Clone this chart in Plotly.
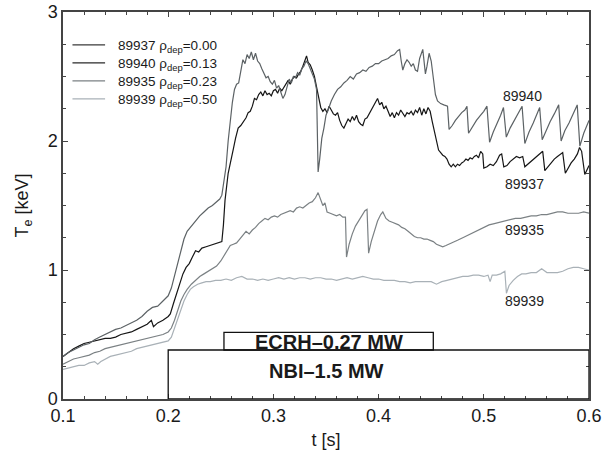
import plotly.graph_objects as go

# ---------------- data ----------------
t_89940 = [0.100,0.105,0.110,0.115,0.120,0.125,0.130,0.135,0.140,0.145,0.150,0.155,0.160,0.165,0.170,0.175,0.180,0.185,0.190,0.195,
           0.200,0.203,0.206,0.209,0.212,0.215,0.218,0.222,0.226,0.230,0.234,0.238,0.242,0.246,0.249,0.251,0.253,0.255,0.257,0.259,
           0.261,0.263,0.265,0.267,0.269,0.271,0.273,0.275,0.277,0.279,0.281,0.283,0.285,0.287,0.289,0.291,0.293,0.295,0.297,0.299,
           0.301,0.303,0.305,0.307,0.309,0.311,0.313,0.315,0.317,0.319,0.321,0.323,0.325,0.327,0.329,0.331,0.333,0.335,0.337,0.339,
           0.341,0.3425,0.344,0.346,0.348,0.350,0.352,0.355,0.358,0.361,0.364,0.367,0.370,0.373,0.376,0.379,0.382,0.385,0.388,0.391,
           0.394,0.397,0.400,0.403,0.406,0.409,0.412,0.415,0.418,0.420,0.4215,0.423,0.425,0.427,0.429,0.431,0.433,0.435,0.437,0.439,
           0.442,0.4445,0.446,0.448,0.450,0.452,0.454,0.456,0.459,0.462,0.4655,0.467,0.470,0.473,0.476,0.479,0.482,0.484,0.4855,0.489,
           0.493,0.497,0.500,0.503,0.5055,0.509,0.513,0.516,0.5187,0.5214,0.525,0.529,0.533,0.5364,0.539,0.543,0.547,0.550,0.5531,0.5555,
           0.559,0.563,0.567,0.5712,0.5735,0.577,0.581,0.585,0.5888,0.5913,0.595,0.600]
T_89940 = [0.33,0.36,0.38,0.40,0.42,0.43,0.46,0.48,0.50,0.52,0.54,0.55,0.57,0.59,0.61,0.64,0.68,0.71,0.72,0.76,
           0.80,0.86,0.96,1.06,1.16,1.24,1.30,1.34,1.38,1.42,1.45,1.48,1.50,1.53,1.55,1.58,1.68,1.80,2.00,2.18,
           2.30,2.40,2.44,2.45,2.55,2.63,2.60,2.67,2.64,2.69,2.63,2.68,2.62,2.60,2.56,2.52,2.49,2.50,2.46,2.44,
           2.47,2.41,2.43,2.38,2.33,2.36,2.42,2.48,2.45,2.50,2.49,2.53,2.51,2.56,2.58,2.62,2.60,2.56,2.53,2.48,
           2.40,1.76,1.86,2.02,2.10,2.20,2.24,2.31,2.36,2.40,2.42,2.45,2.47,2.50,2.48,2.52,2.53,2.55,2.54,2.57,
           2.58,2.60,2.60,2.62,2.63,2.64,2.66,2.67,2.70,2.71,2.62,2.55,2.60,2.63,2.61,2.58,2.60,2.55,2.54,2.64,
           2.71,2.52,2.58,2.68,2.62,2.48,2.36,2.31,2.29,2.28,2.27,2.09,2.12,2.16,2.19,2.22,2.24,2.27,2.06,2.11,
           2.16,2.20,2.23,2.27,1.99,2.07,2.14,2.20,2.26,2.03,2.10,2.16,2.22,2.27,1.98,2.07,2.14,2.20,2.26,2.01,
           2.08,2.15,2.21,2.28,2.00,2.08,2.14,2.21,2.28,1.96,2.06,2.16]

t_89937 = [0.100,0.105,0.110,0.115,0.120,0.125,0.130,0.135,0.140,0.145,0.150,0.155,0.160,0.165,0.170,0.175,0.180,0.184,0.186,0.190,
           0.195,0.200,0.202,0.205,0.208,0.211,0.214,0.217,0.220,0.223,0.226,0.229,0.232,0.236,0.240,0.244,0.248,0.251,0.2525,0.254,
           0.257,0.2595,0.262,0.264,0.2665,0.269,0.2715,0.274,0.276,0.278,0.280,0.282,0.284,0.286,0.288,0.290,0.292,0.294,0.296,0.298,
           0.300,0.302,0.304,0.306,0.308,0.310,0.312,0.314,0.316,0.318,0.320,0.322,0.324,0.326,0.328,0.330,0.3315,0.333,0.335,0.337,
           0.339,0.341,0.343,0.345,0.347,0.349,0.351,0.353,0.355,0.357,0.359,0.361,0.363,0.365,0.367,0.369,0.371,0.373,0.375,0.377,
           0.379,0.381,0.383,0.385,0.387,0.389,0.391,0.393,0.395,0.397,0.399,0.401,0.403,0.405,0.407,0.409,0.411,0.413,0.415,0.417,
           0.419,0.421,0.423,0.425,0.427,0.429,0.431,0.433,0.435,0.437,0.439,0.441,0.443,0.445,0.447,0.449,0.451,0.453,0.455,0.457,
           0.459,0.461,0.463,0.465,0.467,0.469,0.471,0.473,0.475,0.477,0.479,0.481,0.483,0.485,0.487,0.489,0.491,0.493,0.495,0.497,
           0.499,0.500,0.503,0.506,0.509,0.512,0.515,0.517,0.519,0.522,0.525,0.528,0.531,0.534,0.537,0.539,0.542,0.545,0.548,0.551,
           0.554,0.556,0.558,0.561,0.564,0.567,0.570,0.573,0.575,0.5775,0.580,0.583,0.586,0.589,0.591,0.593,0.596,0.598,0.600]
T_89937 = [0.33,0.36,0.39,0.41,0.43,0.44,0.45,0.46,0.47,0.47,0.48,0.50,0.51,0.52,0.54,0.56,0.58,0.61,0.56,0.59,
           0.61,0.64,0.66,0.74,0.82,0.90,0.97,1.02,1.05,1.10,1.15,1.14,1.17,1.18,1.19,1.20,1.21,1.22,1.35,1.54,
           1.75,1.86,1.94,2.02,2.10,2.12,2.15,2.18,2.22,2.23,2.27,2.33,2.32,2.36,2.38,2.35,2.39,2.36,2.37,2.35,
           2.39,2.40,2.37,2.41,2.39,2.42,2.45,2.47,2.44,2.48,2.50,2.49,2.52,2.54,2.58,2.62,2.66,2.61,2.59,2.55,
           2.50,2.42,2.34,2.26,2.23,2.25,2.22,2.27,2.24,2.21,2.20,2.22,2.16,2.12,2.10,2.14,2.17,2.15,2.19,2.16,
           2.20,2.15,2.13,2.12,2.17,2.18,2.21,2.24,2.28,2.30,2.33,2.28,2.30,2.25,2.27,2.23,2.19,2.22,2.18,2.22,
           2.20,2.24,2.21,2.19,2.22,2.21,2.23,2.20,2.24,2.22,2.26,2.20,2.25,2.21,2.26,2.23,2.15,2.08,1.99,1.93,
           1.91,1.89,1.88,1.86,1.82,1.80,1.82,1.80,1.82,1.81,1.83,1.84,1.86,1.85,1.87,1.86,1.88,1.89,1.87,1.92,
           1.90,1.79,1.80,1.82,1.81,1.84,1.89,1.90,1.80,1.81,1.84,1.86,1.88,1.87,1.88,1.80,1.82,1.84,1.86,1.88,
           1.90,1.92,1.77,1.80,1.83,1.86,1.88,1.90,1.91,1.75,1.79,1.83,1.86,1.90,1.95,1.92,1.74,1.78,1.81]

t_89935 = [0.100,0.105,0.110,0.115,0.120,0.125,0.130,0.135,0.140,0.145,0.150,0.155,0.160,0.165,0.170,0.175,0.180,0.185,0.190,0.195,
           0.200,0.203,0.206,0.209,0.212,0.215,0.218,0.222,0.226,0.230,0.234,0.238,0.242,0.246,0.250,0.253,0.256,0.259,0.262,0.265,
           0.268,0.271,0.274,0.277,0.280,0.283,0.286,0.289,0.292,0.295,0.298,0.301,0.304,0.307,0.310,0.313,0.316,0.319,0.322,0.325,
           0.328,0.331,0.334,0.337,0.340,0.3425,0.345,0.347,0.349,0.351,0.354,0.357,0.360,0.363,0.366,0.3685,0.3695,0.372,0.375,0.378,
           0.381,0.384,0.387,0.389,0.3905,0.393,0.396,0.399,0.402,0.404,0.407,0.410,0.413,0.416,0.419,0.422,0.425,0.428,0.431,0.434,
           0.437,0.440,0.443,0.446,0.449,0.452,0.455,0.458,0.461,0.464,0.467,0.470,0.475,0.480,0.485,0.490,0.495,0.500,0.505,0.510,
           0.515,0.520,0.525,0.530,0.535,0.540,0.545,0.550,0.555,0.560,0.565,0.570,0.575,0.580,0.585,0.590,0.595,0.600]
T_89935 = [0.27,0.29,0.31,0.32,0.33,0.34,0.36,0.37,0.39,0.40,0.41,0.42,0.43,0.44,0.45,0.46,0.47,0.48,0.49,0.50,
           0.52,0.55,0.61,0.69,0.76,0.81,0.85,0.89,0.92,0.95,0.97,0.99,1.01,1.03,1.07,1.11,1.15,1.19,1.20,1.21,
           1.24,1.27,1.30,1.28,1.31,1.33,1.36,1.38,1.40,1.39,1.41,1.42,1.41,1.43,1.44,1.45,1.46,1.45,1.48,1.49,
           1.48,1.50,1.52,1.53,1.56,1.60,1.54,1.50,1.52,1.45,1.44,1.43,1.42,1.43,1.41,1.41,1.10,1.20,1.28,1.34,
           1.38,1.42,1.46,1.47,1.13,1.22,1.30,1.38,1.43,1.45,1.40,1.38,1.37,1.36,1.35,1.33,1.32,1.30,1.28,1.26,
           1.25,1.25,1.24,1.24,1.23,1.22,1.20,1.19,1.18,1.19,1.20,1.21,1.23,1.25,1.27,1.29,1.31,1.33,1.35,1.36,
           1.37,1.38,1.39,1.40,1.40,1.41,1.42,1.42,1.43,1.43,1.44,1.45,1.45,1.44,1.44,1.44,1.45,1.44]

t_89939 = [0.100,0.105,0.110,0.115,0.120,0.125,0.130,0.133,0.136,0.140,0.145,0.150,0.155,0.160,0.165,0.170,0.175,0.180,0.185,0.190,
           0.195,0.200,0.203,0.206,0.209,0.212,0.215,0.218,0.221,0.224,0.228,0.232,0.236,0.240,0.245,0.250,0.255,0.260,0.265,0.270,
           0.275,0.280,0.285,0.290,0.295,0.300,0.305,0.310,0.315,0.320,0.325,0.330,0.335,0.340,0.345,0.350,0.355,0.360,0.365,0.370,
           0.375,0.380,0.385,0.390,0.395,0.400,0.405,0.410,0.415,0.420,0.425,0.430,0.435,0.440,0.445,0.450,0.455,0.460,0.465,0.470,
           0.475,0.480,0.485,0.490,0.495,0.500,0.504,0.506,0.508,0.512,0.516,0.520,0.5215,0.524,0.528,0.532,0.536,0.540,0.545,0.550,
           0.555,0.560,0.565,0.570,0.575,0.580,0.585,0.590,0.595,0.600]
T_89939 = [0.23,0.24,0.25,0.26,0.26,0.28,0.29,0.27,0.29,0.31,0.33,0.34,0.35,0.36,0.37,0.39,0.40,0.41,0.42,0.43,
           0.44,0.45,0.48,0.55,0.63,0.70,0.76,0.81,0.85,0.87,0.89,0.90,0.91,0.91,0.92,0.92,0.93,0.92,0.94,0.95,
           0.93,0.93,0.92,0.93,0.92,0.93,0.94,0.93,0.94,0.93,0.94,0.94,0.93,0.94,0.94,0.93,0.93,0.92,0.93,0.94,
           0.93,0.94,0.95,0.94,0.93,0.93,0.92,0.92,0.92,0.91,0.91,0.90,0.91,0.91,0.91,0.91,0.89,0.91,0.92,0.93,
           0.94,0.95,0.95,0.96,0.96,0.95,0.96,0.91,0.96,0.96,0.97,0.99,0.82,0.88,0.92,0.95,0.97,0.97,0.98,0.98,
           1.01,0.98,0.98,0.98,0.99,1.01,1.02,1.02,1.01,1.00]

series_ids = ["89937", "89940", "89935", "89939"]
rho_dep = ["0.00", "0.13", "0.23", "0.50"]
curve_labels = ["89940", "89937", "89935", "89939"]
label_t = [0.5365, 0.5386, 0.5386, 0.5386]
label_T = [2.35, 1.67, 1.31, 0.76]

heating_labels = ["ECRH–0.27 MW", "NBI–1.5 MW"]
ecrh_t = [0.253, 0.452]
ecrh_T = [0.38, 0.517]
nbi_t = [0.2, 0.6]
nbi_T = [0.0, 0.38]

x_ticks = [0.1, 0.2, 0.3, 0.4, 0.5, 0.6]
x_ticklabels = ["0.1", "0.2", "0.3", "0.4", "0.5", "0.6"]
y_ticks = [0, 1, 2, 3]

# ---------------- figure ----------------
FONT = "Liberation Sans, Arial, Helvetica, sans-serif"
colors = ["#161616", "#5c6265", "#7b8184", "#a9b1b7"]
legend_colors = ["#3a3a3a", "#2a2a2a", "#7b8184", "#a9b1b7"]

fig = go.Figure()
data = [(t_89937, T_89937), (t_89940, T_89940), (t_89935, T_89935), (t_89939, T_89939)]
for (tt, TT), sid, rho, c in zip(data, series_ids, rho_dep, colors):
    fig.add_trace(go.Scatter(x=tt, y=TT, mode="lines", name=f"{sid} ρ<sub>dep</sub>={rho}",
                             line=dict(color=c, width=1.2), showlegend=False))

# legend (drawn in paper coordinates inside the plot area)
leg_y0 = 0.915   # first row (paper)
leg_dy = 0.0465  # row spacing (paper)
for i, (sid, rho, c) in enumerate(zip(series_ids, rho_dep, legend_colors)):
    yy = leg_y0 - i * leg_dy
    fig.add_shape(type="line", xref="paper", yref="paper", x0=0.018, x1=0.080, y0=yy, y1=yy,
                  line=dict(color=c, width=1.3))
    fig.add_annotation(xref="paper", yref="paper", x=0.100, y=yy - 0.004, xanchor="left", yanchor="middle",
                       text=f"{sid} ρ<sub>dep</sub>={rho}", showarrow=False,
                       font=dict(size=13.5, color="#1a1a1a", family=FONT))

# heating boxes
fig.add_shape(type="rect", x0=nbi_t[0], x1=nbi_t[1], y0=nbi_T[0], y1=nbi_T[1],
              line=dict(color="#111111", width=1.3), fillcolor="rgba(0,0,0,0)", layer="above")
fig.add_shape(type="rect", x0=ecrh_t[0], x1=ecrh_t[1], y0=ecrh_T[0], y1=ecrh_T[1],
              line=dict(color="#111111", width=1.3), fillcolor="rgba(0,0,0,0)", layer="above")
fig.add_annotation(x=(ecrh_t[0] + ecrh_t[1]) / 2, y=0.443, text="<b>" + heating_labels[0] + "</b>",
                   showarrow=False, font=dict(size=20, color="#1a1a1a", family=FONT))
fig.add_annotation(x=0.3505, y=0.22, text="<b>" + heating_labels[1] + "</b>",
                   showarrow=False, font=dict(size=20, color="#1a1a1a", family=FONT))

for lab, tx, ty in zip(curve_labels, label_t, label_T):
    fig.add_annotation(x=tx, y=ty, text=lab, showarrow=False,
                       font=dict(size=14, color="#222222", family=FONT))

axis_common = dict(showline=True, linecolor="#444444", linewidth=1.5, mirror="allticks",
                   ticks="inside", ticklen=5, tickcolor="#444444", tickwidth=1,
                   showgrid=False, zeroline=False, automargin=False,
                   tickfont=dict(size=18, color="#1a1a1a", family=FONT))

fig.update_xaxes(range=[0.1, 0.6], tickvals=x_ticks, ticktext=x_ticklabels,
                 minor=dict(ticks="inside", ticklen=3, dtick=0.02, tick0=0.1, tickcolor="#444444", showgrid=False),
                 title=dict(text="t [s]", font=dict(size=18, color="#1a1a1a", family=FONT), standoff=8),
                 **axis_common)
fig.update_yaxes(range=[0, 3], tickvals=y_ticks,
                 minor=dict(ticks="inside", ticklen=3, dtick=0.25, tick0=0, tickcolor="#444444", showgrid=False),
                 title=dict(text="T<sub>e</sub> [keV]", font=dict(size=18, color="#1a1a1a", family=FONT), standoff=14),
                 **axis_common)

fig.update_layout(
    width=602, height=459,
    margin=dict(l=63, r=13, t=12, b=60),
    paper_bgcolor="white", plot_bgcolor="white",
    showlegend=False,
)

fig.write_html("out.html")
